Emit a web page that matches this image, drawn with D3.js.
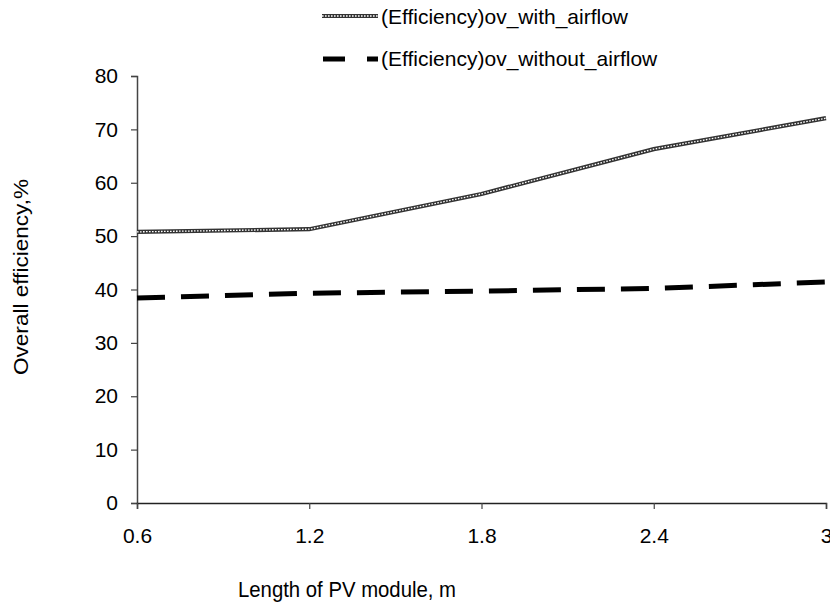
<!DOCTYPE html>
<html>
<head>
<meta charset="utf-8">
<script src="https://cdn.jsdelivr.net/npm/d3@7"></script>
<style>
  body { margin: 0; background: #fff; }
  text { font-family: "Liberation Sans", Arial, sans-serif; fill: #000; }
</style>
</head>
<body>
<svg id="chart" width="830" height="605"></svg>
<script>
const lengths = [0.6, 1.2, 1.8, 2.4, 3];
const withAirflow = [50.8, 51.3, 57.9, 66.3, 72.1];
const withoutAirflow = [38.4, 39.3, 39.7, 40.2, 41.4];
const yTicks = [0, 10, 20, 30, 40, 50, 60, 70, 80];
const seriesNames = ["(Efficiency)ov_with_airflow", "(Efficiency)ov_without_airflow"];

const svg = d3.select("#chart");
const margin = { top: 76, right: 4, bottom: 102, left: 137 };
const width = 830 - margin.left - margin.right;
const height = 605 - margin.top - margin.bottom;

const x = d3.scaleLinear().domain([0.6, 3]).range([0, width]);
const y = d3.scaleLinear().domain([0, 80]).range([height, 0]);

const g = svg.append("g")
  .attr("transform", `translate(${margin.left},${margin.top})`);

// axes
const yAxis = g.append("g")
  .call(d3.axisLeft(y).tickValues(yTicks).tickSize(6).tickPadding(13));
yAxis.select(".domain").attr("stroke", "#444").attr("stroke-width", 1.5);
yAxis.selectAll(".tick line").attr("stroke", "#444").attr("stroke-width", 1.2);
yAxis.selectAll("text").style("font-size", "21px").attr("fill", "#000");

const xAxis = g.append("g")
  .attr("transform", `translate(0,${height})`)
  .call(d3.axisBottom(x).tickValues(lengths).tickFormat(d3.format("")).tickSize(6).tickPadding(19));
xAxis.select(".domain").attr("stroke", "#222").attr("stroke-width", 1.5);
xAxis.selectAll(".tick line").attr("stroke", "#444").attr("stroke-width", 1.2);
xAxis.selectAll("text").style("font-size", "21px").attr("fill", "#000");

// axis titles
svg.append("text")
  .attr("x", 238)
  .attr("y", 597)
  .attr("textLength", 218)
  .attr("lengthAdjust", "spacingAndGlyphs")
  .style("font-size", "22px")
  .text("Length of PV module, m");

svg.append("text")
  .attr("transform", "translate(28,375) rotate(-90)")
  .attr("textLength", 196)
  .attr("lengthAdjust", "spacingAndGlyphs")
  .style("font-size", "21px")
  .text("Overall efficiency,%");

// lines
const line = d3.line().x(d => x(d[0])).y(d => y(d[1]));
const withData = lengths.map((l, i) => [l, withAirflow[i]]);
const withoutData = lengths.map((l, i) => [l, withoutAirflow[i]]);

g.append("path")
  .datum(withData)
  .attr("d", line)
  .attr("fill", "none")
  .attr("stroke", "#333")
  .attr("stroke-width", 4.2);
g.append("path")
  .datum(withData)
  .attr("d", line)
  .attr("fill", "none")
  .attr("stroke", "#fff")
  .attr("stroke-width", 1.3)
  .attr("stroke-dasharray", "1.6,1.4");

g.append("path")
  .datum(withoutData)
  .attr("d", line)
  .attr("fill", "none")
  .attr("stroke", "#000")
  .attr("stroke-width", 5)
  .attr("stroke-dasharray", "28,16");

// legend
const legend = svg.append("g");
legend.append("line")
  .attr("x1", 322).attr("x2", 378).attr("y1", 16).attr("y2", 16)
  .attr("stroke", "#333").attr("stroke-width", 4.2);
legend.append("line")
  .attr("x1", 322).attr("x2", 378).attr("y1", 16).attr("y2", 16)
  .attr("stroke", "#fff").attr("stroke-width", 1.3).attr("stroke-dasharray", "1.6,1.4");
legend.append("line")
  .attr("x1", 323).attr("x2", 378).attr("y1", 59).attr("y2", 59)
  .attr("stroke", "#000").attr("stroke-width", 5).attr("stroke-dasharray", "22,22");

legend.selectAll(".legend-text")
  .data(seriesNames)
  .enter()
  .append("text")
  .attr("class", "legend-text")
  .attr("x", 381)
  .attr("y", (d, i) => 24 + i * 42)
  .style("font-size", "21px")
  .text(d => d);
</script>
</body>
</html>
